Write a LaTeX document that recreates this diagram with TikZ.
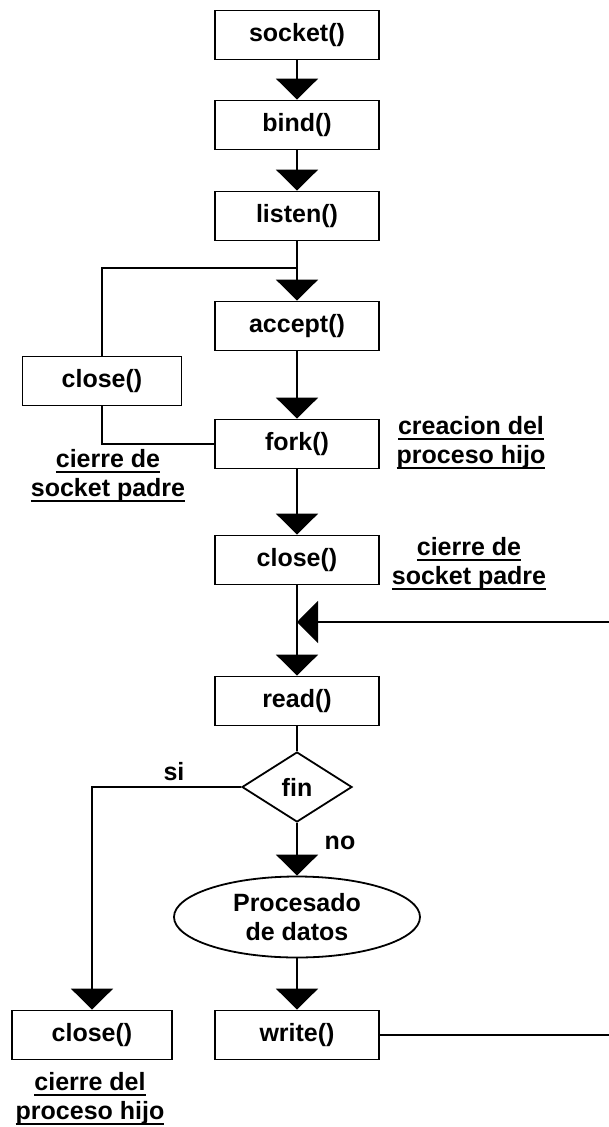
\documentclass[tikz,border=0pt]{standalone}
\usepackage{fontspec}
\setmainfont{Liberation Sans}
\usetikzlibrary{arrows.meta,shapes.geometric}

% underlined caption line: a fixed rule just below the baseline
\newcommand\ulbl[1]{\hbox{\setbox0=\hbox{#1}\rlap{\vrule width\wd0 height -3.5pt depth 5.5pt}\box0}}

\tikzset{
  box/.style={draw, line width=1.8pt, minimum width=164pt, minimum height=49pt, inner sep=0pt},
  arr/.style={-{Triangle[length=21pt,width=42pt]}},
  lbl/.style={align=center, inner sep=0pt},
}

\begin{document}
\begin{tikzpicture}[x=1pt,y=-1pt, line width=1.8pt,
    font=\fontsize{25}{29}\selectfont\bfseries]
  \useasboundingbox (0,0) rectangle (609,1127);

  % main column
  \node[box] (socket) at (297,35)  {socket()};
  \node[box] (bind)   at (297,125) {bind()};
  \node[box] (listen) at (297,216) {listen()};
  \node[box] (accept) at (297,326) {accept()};
  \node[box] (fork)   at (297,444) {fork()};
  \node[box] (closep) at (297,560) {close()};
  \node[box] (read)   at (297,701) {read()};
  \node[diamond, draw, minimum width=110pt, minimum height=70pt, inner sep=0pt] (fin) at (297,787) {fin};
  \node[ellipse, draw, minimum width=246pt, minimum height=81pt, inner sep=0pt, align=center] (proc) at (297,917) {Procesado\\de datos};
  \node[box] (write)  at (297,1035) {write()};

  % side boxes
  \node[box, minimum width=159pt] (closel) at (102,381)  {close()};
  \node[box, minimum width=160pt] (closeh) at (92,1035)  {close()};

  % captions
  \node[lbl] (capl) at (108,476) {\ulbl{cierre de}\\\ulbl{socket padre}};
  \node[lbl] (capf) at (471,443) {\ulbl{creacion del}\\\ulbl{proceso hijo}};
  \node[lbl] (capc) at (469,564) {\ulbl{cierre de}\\\ulbl{socket padre}};
  \node[lbl] (caph) at (90,1099) {\ulbl{cierre del}\\\ulbl{proceso hijo}};
  \node[lbl] (si) at (174,772) {si};
  \node[lbl] (no) at (340,843) {no};

  % junction points
  \coordinate (merge) at (297,268);
  \coordinate (back)  at (297,622);
  \coordinate (edgeA) at (609,622);
  \coordinate (edgeB) at (609,1035);

  % connectors
  \draw[arr] (socket) -- (bind);
  \draw[arr] (bind) -- (listen);
  \draw (listen.south) -- (merge);
  \draw[arr] (merge) -- (accept.north);
  \draw (merge) -| (closel.north);
  \draw (closel.south) |- (fork.west);
  \draw[arr] (accept) -- (fork);
  \draw[arr] (fork) -- (closep);
  \draw (closep.south) -- (back);
  \draw[arr] (edgeA) -- (back);
  \draw[arr] (back) -- (read.north);
  \draw (read) -- (fin);
  \draw[arr] (fin) -- (proc);
  \draw[arr] (proc) -- (write);
  \draw[arr] (fin.west) -| (closeh.north);
  \draw (write.east) -- (edgeB);
\end{tikzpicture}
\end{document}
